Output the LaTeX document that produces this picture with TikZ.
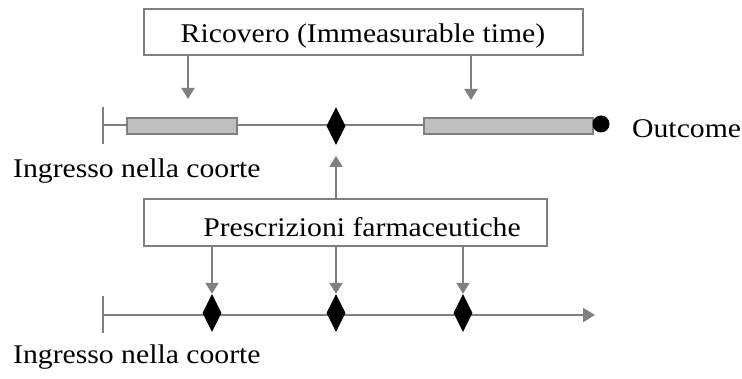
\documentclass[tikz,border=0pt]{standalone}
\usepackage{fontspec}
\setmainfont{Liberation Serif}[FakeStretch=1.1]
\usetikzlibrary{arrows.meta,shapes.geometric}
\definecolor{lineg}{RGB}{128,128,128}
\definecolor{barg}{RGB}{191,191,191}

\begin{document}
\begin{tikzpicture}[x=1pt,y=-1pt,
  txt/.style={inner sep=0pt, font=\fontsize{27}{31}\selectfont, text=black},
  labelbox/.style={draw=lineg, line width=2pt, fill=white, inner sep=0pt},
  bar/.style={draw=lineg, line width=1.5pt, fill=barg, inner sep=0pt},
  event/.style={diamond, fill=black, inner sep=0pt, minimum width=19pt, minimum height=38pt},
  axis/.style={draw=lineg, line width=2pt},
  arr/.style={axis, -{Triangle[width=13pt,length=11pt]}},
  endarr/.style={axis, -{Triangle[width=14pt,length=12pt]}}]

  \path[use as bounding box, fill=white] (0,0) rectangle (742,379);

  % ---- upper timeline: hospital stays and outcome ----
  \coordinate (t0) at (103,125);
  \coordinate (tend) at (601,125);
  \draw[axis] (t0) -- (tend);
  \draw[axis] (t0) ++(0,-18) -- ++(0,37);

  \node[bar, minimum width=110pt, minimum height=16pt] (b1) at (182,126) {};
  \node[bar, minimum width=169pt, minimum height=16pt] (b2) at (508.5,126) {};
  \node[event] (d0) at (336,126) {};
  \node[circle, fill=black, inner sep=0pt, minimum size=17pt] (out) at (601,124) {};
  \node[txt, anchor=base west] (outt) at (632,138) {Outcome};
  \node[txt, anchor=base west] (ing1) at (13,178) {Ingresso nella coorte};

  % ---- hospitalisation label ----
  \node[labelbox, minimum width=439pt, minimum height=46pt] (ric) at (363.5,32) {};
  \node[txt, anchor=base] (rict) at (363,43) {Ricovero (Immeasurable time)};
  \coordinate (r1) at (188,99);
  \coordinate (r2) at (471,100);
  \draw[arr] (ric.south -| r1) -- (r1);
  \draw[arr] (ric.south -| r2) -- (r2);

  % ---- prescriptions label ----
  \node[labelbox, minimum width=403pt, minimum height=47pt] (presc) at (345.5,222.5) {};
  \node[txt, anchor=base] (presct) at (362,237) {Prescrizioni farmaceutiche};
  \coordinate (up) at (336,156);
  \draw[arr] (presc.north -| up) -- (up);

  % ---- lower timeline: dispensing events ----
  \coordinate (s0) at (103,315);
  \coordinate (send) at (595,315);
  \draw[endarr] (s0) -- (send);
  \draw[axis] (s0) ++(0,-19) -- ++(0,37);

  \node[event] (p1) at (212,313) {};
  \node[event] (p2) at (336,313) {};
  \node[event] (p3) at (463,313) {};
  \draw[arr] (presc.south -| p1) -- (p1.north);
  \draw[arr] (presc.south -| p2) -- (p2.north);
  \draw[arr] (presc.south -| p3) -- (p3.north);

  \node[txt, anchor=base west] (ing2) at (13,364) {Ingresso nella coorte};
\end{tikzpicture}
\end{document}
